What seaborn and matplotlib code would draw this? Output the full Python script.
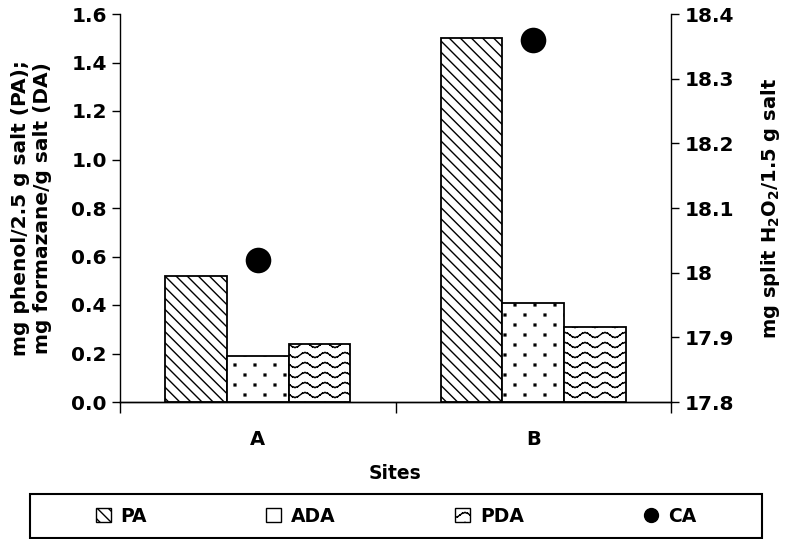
import warnings
warnings.filterwarnings('ignore')
import numpy as np
import pandas as pd
import matplotlib
matplotlib.use('Agg')
import matplotlib.pyplot as plt
import matplotlib.hatch as mhatch
from matplotlib.path import Path
from matplotlib.patches import Patch, Rectangle
from matplotlib.lines import Line2D
from matplotlib.ticker import FixedLocator, FormatStrFormatter
import seaborn as sns

# ---------------- data ----------------
sites = ['A', 'B']
series = ['PA', 'ADA', 'PDA']
pa_vals = [0.52, 1.50]
ada_vals = [0.19, 0.41]
pda_vals = [0.24, 0.31]
ca_vals = [18.02, 18.36]
left_ticks = [0.0, 0.2, 0.4, 0.6, 0.8, 1.0, 1.2, 1.4, 1.6]
right_ticks = [17.8, 17.9, 18.0, 18.1, 18.2, 18.3, 18.4]
legend_labels = ['PA', 'ADA', 'PDA', 'CA']


# ---------------- custom hatch patterns (style only) ----------------
class WaveHatch(mhatch.HatchPatternBase):
    n_pts = 41

    def __init__(self, hatch, density):
        self.num_lines = hatch.count('~') * 10
        self.num_vertices = self.num_lines * (self.n_pts - 1) * 2

    def set_vertices_and_codes(self, vertices, codes):
        t = np.linspace(0, 1, self.n_pts)
        k = 0
        for i in range(self.num_lines):
            y0 = (i + 0.5) / self.num_lines
            y = y0 + 0.025 * np.sin(2 * np.pi * 5 * t)
            for j in range(self.n_pts - 1):
                vertices[k] = (t[j], y[j]); codes[k] = Path.MOVETO
                vertices[k + 1] = (t[j + 1], y[j + 1]); codes[k + 1] = Path.LINETO
                k += 2


class DotHatch(mhatch.HatchPatternBase):
    def __init__(self, hatch, density):
        self.num_rows = hatch.count(':') * 10
        self.per_row = 5
        self.num_vertices = self.num_rows * self.per_row * 5

    def set_vertices_and_codes(self, vertices, codes):
        s = 0.009
        k = 0
        for r in range(self.num_rows):
            y = (r + 0.5) / self.num_rows
            off = 0.1 if r % 2 else 0.0
            for c in range(self.per_row):
                x = c / self.per_row + off + 0.05
                sq = [(x - s, y - s), (x + s, y - s), (x + s, y + s), (x - s, y + s), (x - s, y - s)]
                for m, p in enumerate(sq):
                    vertices[k] = p
                    codes[k] = Path.MOVETO if m == 0 else (Path.CLOSEPOLY if m == 4 else Path.LINETO)
                    k += 1


mhatch._hatch_types.append(WaveHatch)
mhatch._hatch_types.append(DotHatch)

hatches = ['\\\\\\', ':', '~']

# ---------------- style ----------------
sns.set_style('ticks')
plt.rcParams['font.family'] = ['DejaVu Sans']
plt.rcParams['font.weight'] = 'bold'
plt.rcParams['axes.labelweight'] = 'bold'
plt.rcParams['mathtext.default'] = 'regular'
plt.rcParams['hatch.linewidth'] = 1.0
plt.rcParams['hatch.color'] = 'black'
plt.rcParams['axes.linewidth'] = 1.0
for key in ['text.color', 'axes.labelcolor', 'xtick.color', 'ytick.color', 'axes.edgecolor']:
    plt.rcParams[key] = 'black'

df = pd.DataFrame({
    'site': sites * 3,
    'series': [s for s in series for _ in sites],
    'value': pa_vals + ada_vals + pda_vals,
})

fig = plt.figure(figsize=(7.86, 5.39), dpi=100)
ax = fig.add_axes([120 / 786, 1 - 402 / 539, 551 / 786, 388 / 539])

sns.barplot(data=df, x='site', y='value', hue='series', order=sites,
            hue_order=series, palette=['white'] * 3, saturation=1,
            edgecolor='black', linewidth=1.3, width=0.67, ax=ax, legend=False)
for cont, h in zip(ax.containers, hatches):
    for bar in cont:
        bar.set_hatch(h)

ax.set_xlim(-0.5, len(sites) - 0.5)
ax.set_ylim(left_ticks[0], left_ticks[-1])
ax.set_yticks(left_ticks)
ax.yaxis.set_major_formatter(FormatStrFormatter('%.1f'))
ax.set_xticks(range(len(sites)))
ax.set_xticklabels(sites)
ax.xaxis.set_minor_locator(FixedLocator(np.arange(len(sites) + 1) - 0.5))
ax.tick_params(axis='x', which='major', length=0, pad=20, labelsize=14)
ax.tick_params(axis='x', which='minor', length=8, width=1, direction='out', color='black')
ax.tick_params(axis='y', length=6, width=1, direction='out', labelsize=14.5, color='black')
ax.spines['top'].set_visible(False)
ax.spines['right'].set_visible(False)
ax.set_xlabel('Sites', fontsize=13.5, labelpad=11)
ax.set_ylabel('mg phenol/2.5 g salt (PA);\nmg formazane/g salt (DA)', fontsize=14.5, labelpad=14)

ax2 = ax.twinx()
sns.scatterplot(x=np.arange(len(sites)), y=ca_vals, ax=ax2, s=340, color='black',
                edgecolor='black', linewidth=0, legend=False, zorder=5)
ax2.set_ylim(right_ticks[0], right_ticks[-1])
ax2.set_yticks(right_ticks)
ax2.yaxis.set_major_formatter(FormatStrFormatter('%g'))
ax2.tick_params(axis='y', length=6, width=1, direction='out', labelsize=14.5, color='black')
ax2.spines['top'].set_visible(False)
ax2.spines['left'].set_visible(False)
ax2.set_ylabel('mg split H$_2$O$_2$/1.5 g salt', fontsize=14, labelpad=18)
ax.set_xlim(-0.5, len(sites) - 0.5)

# ---------------- legend ----------------
handles = [Patch(facecolor='white', edgecolor='black', hatch=h, linewidth=1.0) for h in hatches]
handles.append(Line2D([], [], marker='o', linestyle='none', color='black', markersize=10))
leg = fig.legend(handles, legend_labels, loc='center', ncol=4,
                 bbox_to_anchor=(396 / 786, 1 - 516 / 539), frameon=False,
                 handlelength=0.8, handleheight=0.8, handletextpad=0.5,
                 columnspacing=6.4, fontsize=13.5)
fig.patches.append(Rectangle((30 / 786, 1 - 538 / 539), 732 / 786, 44 / 539,
                             transform=fig.transFigure, fill=False,
                             edgecolor='black', linewidth=1.5))

fig.savefig('out.png', dpi=100)
